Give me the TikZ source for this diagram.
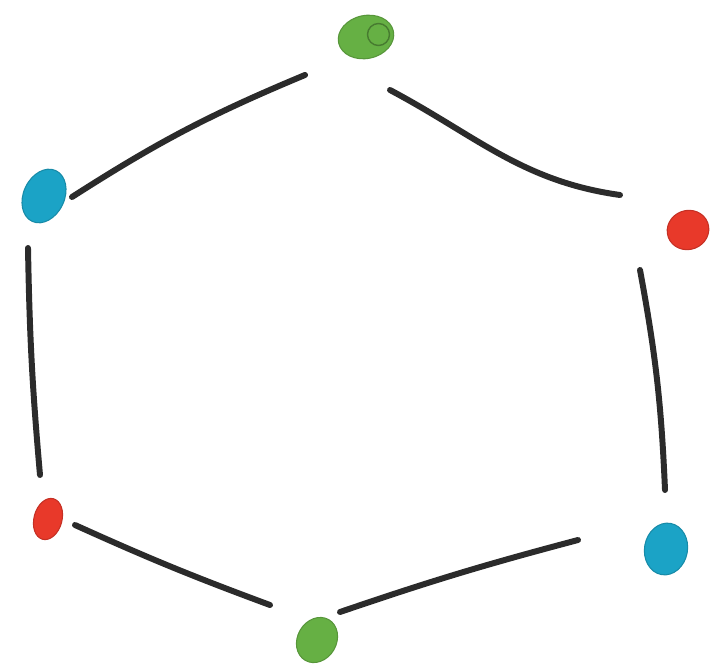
\documentclass[tikz,border=0pt]{standalone}
\usepackage{xcolor}
\usepackage{tikz}
\usetikzlibrary{calc,shapes.geometric}
\definecolor{penink}{HTML}{2B2B2B}
\definecolor{dotgreen}{HTML}{66B044}
\definecolor{dotred}{HTML}{E8392A}
\definecolor{dotcyan}{HTML}{1BA3C6}

\begin{document}
\begin{tikzpicture}[
  ink/.style={penink, line width=3.4pt, line cap=round},
  dot/.style={ellipse, fill=#1, draw=#1!85!black, line width=0.6pt, inner sep=0pt}]
  \useasboundingbox (0,0) rectangle (14.30,13.42);
  % the six dots
  \node[dot=dotgreen, minimum width=1.12cm, minimum height=0.86cm, rotate=12] (greenT) at (7.32,12.68) {};
  \node[dot=dotred, minimum width=0.84cm, minimum height=0.78cm, rotate=20] (redR) at (13.76,8.82) {};
  \node[dot=dotcyan, minimum width=0.86cm, minimum height=1.04cm, rotate=-10] (cyanR) at (13.32,2.44) {};
  \node[dot=dotgreen, minimum width=0.78cm, minimum height=0.94cm, rotate=-30] (greenB) at (6.34,0.62) {};
  \node[dot=dotred, minimum width=0.56cm, minimum height=0.84cm, rotate=-15] (redL) at (0.96,3.04) {};
  \node[dot=dotcyan, minimum width=0.82cm, minimum height=1.12cm, rotate=-25] (cyanL) at (0.88,9.50) {};
  \draw[dotgreen!70!black, line width=0.8pt] ($(greenT)+(0.25,0.05)$) circle (0.22);
  % the strokes between them
  \draw[ink] ($(cyanL)+(0.56,-0.02)$) to[bend left=5] ($(greenT)+(-1.22,-0.76)$);
  \draw[ink] ($(greenT)+(0.48,-1.06)$) to[out=-28,in=172] ($(redR)+(-1.36,0.70)$);
  \draw[ink] ($(redR)+(-0.96,-0.80)$) to[bend left=4] ($(cyanR)+(-0.02,1.18)$);
  \draw[ink] ($(cyanR)+(-1.76,0.18)$) to[bend right=2] ($(greenB)+(0.46,0.56)$);
  \draw[ink] ($(greenB)+(-0.94,0.70)$) to[bend left=2] ($(redL)+(0.54,-0.12)$);
  \draw[ink] ($(redL)+(-0.16,0.88)$) to[bend left=2] ($(cyanL)+(-0.32,-1.04)$);
\end{tikzpicture}
\end{document}
